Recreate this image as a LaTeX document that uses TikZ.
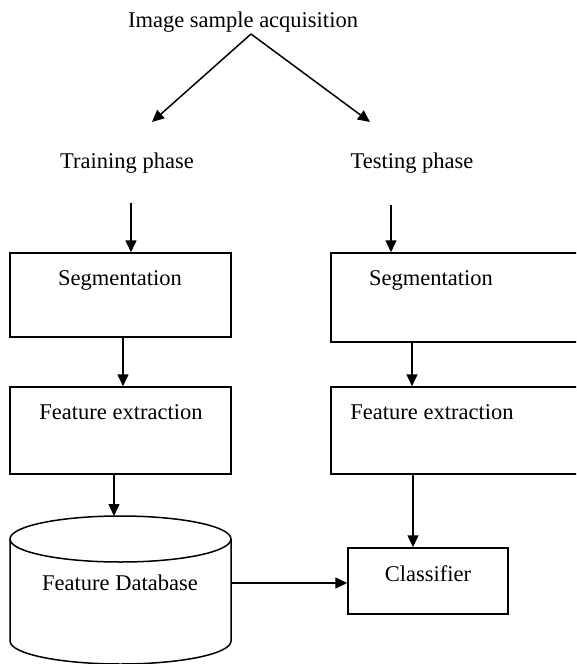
\documentclass[tikz,border=0pt]{standalone}
\usepackage{fontspec}
\setmainfont{Liberation Serif}
\usetikzlibrary{arrows.meta}
\begin{document}
\begin{tikzpicture}[x=1pt,y=-1pt,
  line width=1.5pt,
  arr/.style={-{Triangle[length=12pt,width=11pt]}},
  box/.style={draw,line width=1.5pt},
  lbl/.style={font=\fontsize{22.5}{26}\selectfont,inner sep=0pt}]
\useasboundingbox (0,0) rectangle (576,664);
\begin{scope}
\clip (0,0) rectangle (576,664);
% texts
\node[lbl] (title) at (243,22) {Image sample acquisition};
\node[lbl] (train) at (127,163) {Training phase};
\node[lbl] (test) at (412,163) {Testing phase};
% boxes
\draw[box] (10,253) rectangle (231,337);
\node (seg1) at (120.5,295) [minimum width=221pt,minimum height=84pt,inner sep=0pt] {};
\node[lbl] at (120,280) {Segmentation};
\draw[box] (331,253) rectangle (600,342);
\node (seg2) at (465,297.5) [minimum width=269pt,minimum height=89pt,inner sep=0pt] {};
\node[lbl] at (431,280) {Segmentation};
\draw[box] (10,387) rectangle (231,474);
\node (fe1) at (120.5,430.5) [minimum width=221pt,minimum height=87pt,inner sep=0pt] {};
\node[lbl] at (121,412) {Feature extraction};
\draw[box] (331,387) rectangle (600,474);
\node (fe2) at (465,430.5) [minimum width=269pt,minimum height=87pt,inner sep=0pt] {};
\node[lbl] at (432,412) {Feature extraction};
\draw[box] (348,548) rectangle (508,614);
\node (cls) at (428,581) [minimum width=160pt,minimum height=66pt,inner sep=0pt] {};
\node[lbl] at (428,574) {Classifier};
% cylinder
\draw (10,539) -- (10,641) arc[start angle=180,end angle=360,x radius=110.5pt,y radius=23pt] -- (231,539);
\draw (120.5,539) ellipse [x radius=110.5pt,y radius=23pt];
\coordinate (dbtop) at (114,516);
\coordinate (dbright) at (231,583);
\node[lbl] (db) at (120,583) {Feature Database};
% arrows
\coordinate (apex) at (251,34);
\coordinate (tl) at (152,122);
\coordinate (tr) at (370,122);
\draw[arr] (apex) -- (tl);
\draw[arr] (apex) -- (tr);
\coordinate (a1) at (131,203);
\coordinate (a2) at (391,205);
\draw[arr] (a1) -- (a1 |- seg1.north);
\draw[arr] (a2) -- (a2 |- seg2.north);
\coordinate (b1) at (123,337);
\coordinate (b2) at (412,342);
\draw[arr] (b1) -- (b1 |- fe1.north);
\draw[arr] (b2) -- (b2 |- fe2.north);
\coordinate (c1) at (114,474);
\coordinate (c2) at (413,474);
\draw[arr] (c1) -- (dbtop);
\draw[arr] (c2) -- (c2 |- cls.north);
\draw[arr] (dbright) -- (dbright -| cls.west);
\end{scope}
\end{tikzpicture}
\end{document}
